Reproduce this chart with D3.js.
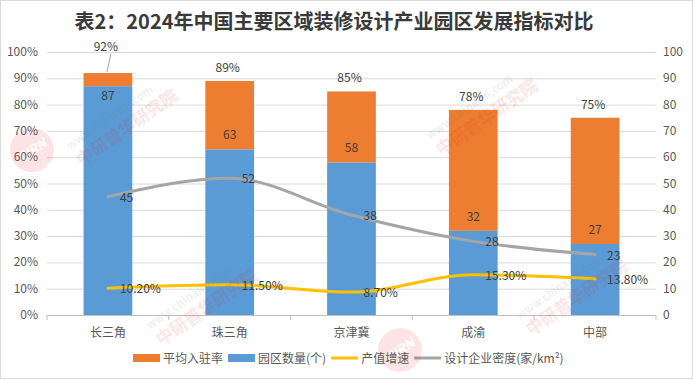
<!DOCTYPE html>
<html>
<head>
<meta charset="utf-8">
<script src="https://cdn.jsdelivr.net/npm/d3@7.9.0/dist/d3.min.js"></script>
<style>
  body { margin: 0; background: #fff; }
  svg { display: block; font-family: "Noto Sans CJK SC", "Noto Sans", sans-serif; }
</style>
</head>
<body>
<svg id="chart" width="693" height="380"></svg>
<script>
// data
const regions = ["长三角", "珠三角", "京津冀", "成渝", "中部"];
const occupancy = [92, 89, 85, 78, 75];        // 平均入驻率 (%)
const parkCount = [87, 63, 58, 32, 27];        // 园区数量(个)
const outputGrowth = [10.2, 11.5, 8.7, 15.3, 13.8]; // 产值增速 (%)
const density = [45, 52, 38, 28, 23];          // 设计企业密度(家/km²)
const leftTicks = d3.range(0, 101, 10);
const rightTicks = d3.range(0, 101, 10);

const colors = {
    orange: "#ED7D31",
    blue: "#5B9BD5",
    yellow: "#FFC000",
    gray: "#A5A5A5",
    axisText: "#595959",
    label: "#404040",
    grid: "#D9D9D9"
};

const svg = d3.select("#chart");
const plot = { left: 47, right: 656, top: 52, bottom: 315 };

let x = d3.scaleBand()
    .domain(regions)
    .range([plot.left, plot.right])
    .paddingInner(0.6)
    .paddingOuter(0.3);
let yLeft = d3.scaleLinear().domain([0, 100]).range([plot.bottom, plot.top]);
let yRight = d3.scaleLinear().domain([0, 100]).range([plot.bottom, plot.top]);
const cx = (d) => x(d) + x.bandwidth() / 2;

// outer frame
svg.append("rect")
    .attr("x", 0.5).attr("y", 0.5)
    .attr("width", 692).attr("height", 378)
    .attr("fill", "none").attr("stroke", "#D9D9D9");

// title
svg.append("text")
    .attr("x", 334).attr("y", 29)
    .attr("text-anchor", "middle")
    .attr("font-size", 20).attr("font-weight", "bold")
    .attr("fill", "#3A3A3A")
    .text("表2：2024年中国主要区域装修设计产业园区发展指标对比");

// gridlines
svg.append("g").selectAll("line")
    .data(leftTicks.slice(1))
    .enter().append("line")
    .attr("x1", plot.left).attr("x2", plot.right)
    .attr("y1", (d) => yLeft(d) + 0.5).attr("y2", (d) => yLeft(d) + 0.5)
    .attr("stroke", colors.grid);

// left axis labels
svg.append("g").selectAll("text")
    .data(leftTicks)
    .enter().append("text")
    .attr("x", 38).attr("y", (d) => yLeft(d) + 4)
    .attr("text-anchor", "end")
    .attr("font-size", 12).attr("fill", colors.axisText)
    .text((d) => d + "%");

// right axis labels
svg.append("g").selectAll("text")
    .data(rightTicks)
    .enter().append("text")
    .attr("x", 663).attr("y", (d) => yRight(d) + 4)
    .attr("font-size", 12).attr("fill", colors.axisText)
    .text((d) => d);

// bars: blue = park count, orange up to occupancy
let bars = svg.append("g");
bars.selectAll(".blue")
    .data(regions)
    .enter().append("rect")
    .attr("x", (d) => x(d)).attr("width", x.bandwidth())
    .attr("y", (d, i) => yRight(parkCount[i]))
    .attr("height", (d, i) => plot.bottom - yRight(parkCount[i]))
    .attr("fill", colors.blue);
bars.selectAll(".orange")
    .data(regions)
    .enter().append("rect")
    .attr("x", (d) => x(d)).attr("width", x.bandwidth())
    .attr("y", (d, i) => yLeft(occupancy[i]))
    .attr("height", (d, i) => yRight(parkCount[i]) - yLeft(occupancy[i]))
    .attr("fill", colors.orange);

// x axis line + ticks at band boundaries
svg.append("line")
    .attr("x1", plot.left).attr("x2", plot.right)
    .attr("y1", plot.bottom + 0.5).attr("y2", plot.bottom + 0.5)
    .attr("stroke", "#BFBFBF");
svg.append("g").selectAll("line")
    .data(d3.range(regions.length + 1))
    .enter().append("line")
    .attr("x1", (i) => plot.left + i * x.step()).attr("x2", (i) => plot.left + i * x.step())
    .attr("y1", plot.bottom).attr("y2", plot.bottom + 5)
    .attr("stroke", "#BFBFBF");

svg.append("g").selectAll("text")
    .data(regions)
    .enter().append("text")
    .attr("x", cx).attr("y", 337)
    .attr("text-anchor", "middle")
    .attr("font-size", 12).attr("fill", colors.axisText)
    .text((d) => d);

// lines (smoothed like the original)
let lineDensity = d3.line()
    .x((d, i) => cx(regions[i]))
    .y((d) => yRight(d))
    .curve(d3.curveMonotoneX);
let lineGrowth = d3.line()
    .x((d, i) => cx(regions[i]))
    .y((d) => yLeft(d))
    .curve(d3.curveMonotoneX);

svg.append("path")
    .datum(density)
    .attr("d", lineDensity)
    .attr("fill", "none").attr("stroke", colors.gray)
    .attr("stroke-width", 3).attr("stroke-linecap", "round");
svg.append("path")
    .datum(outputGrowth)
    .attr("d", lineGrowth)
    .attr("fill", "none").attr("stroke", colors.yellow)
    .attr("stroke-width", 3).attr("stroke-linecap", "round");

// data labels
let labels = svg.append("g")
    .attr("font-size", 12).attr("fill", colors.label);

// occupancy totals above bars
occupancy.forEach((v, i) => {
    let lx = cx(regions[i]);
    let ly = yLeft(v) - 9;
    if (i === 0) {
        ly = yLeft(v) - 22;
        labels.append("line")
            .attr("x1", lx + 3).attr("y1", ly + 3)
            .attr("x2", lx - 1).attr("y2", yLeft(v) - 1)
            .attr("stroke", "#A6A6A6");
    }
    labels.append("text")
        .attr("x", lx - 2).attr("y", ly)
        .attr("text-anchor", "middle")
        .text(v + "%");
});

// park counts near the top of the blue segment
parkCount.forEach((v, i) => {
    let thin = yRight(v) - yLeft(occupancy[i]) < 20;
    labels.append("text")
        .attr("x", cx(regions[i])).attr("y", thin ? yRight(v) + 14 : yRight(v) - 10)
        .attr("text-anchor", "middle")
        .text(v);
});

density.forEach((v, i) => {
    labels.append("text")
        .attr("x", cx(regions[i]) + 12).attr("y", yRight(v) + 5)
        .text(v);
});

outputGrowth.forEach((v, i) => {
    labels.append("text")
        .attr("x", cx(regions[i]) + 12).attr("y", yLeft(v) + 5)
        .text(v.toFixed(2) + "%");
});

// legend
const legendItems = [
    { name: "平均入驻率", color: colors.orange, type: "rect" },
    { name: "园区数量(个)", color: colors.blue, type: "rect" },
    { name: "产值增速", color: colors.yellow, type: "line" },
    { name: "设计企业密度(家/km²)", color: colors.gray, type: "line" }
];
let legend = svg.append("g").attr("transform", "translate(0,358)");
let lx = 133;
legendItems.forEach((item) => {
    if (item.type === "rect") {
        legend.append("rect")
            .attr("x", lx).attr("y", -4).attr("width", 27).attr("height", 8)
            .attr("fill", item.color);
    } else {
        legend.append("line")
            .attr("x1", lx).attr("x2", lx + 27).attr("y1", 0).attr("y2", 0)
            .attr("stroke", item.color).attr("stroke-width", 3);
    }
    let t = legend.append("text")
        .attr("x", lx + 30).attr("y", 4.5)
        .attr("font-size", 12).attr("fill", colors.axisText)
        .text(item.name);
    lx += 30 + t.node().getComputedTextLength() + 5;
});

// watermark, faint, over the chart like the source image
const wm = svg.append("g").attr("opacity", 0.12).attr("fill", "#E0202B")
    .attr("pointer-events", "none");
[[32, 150], [400, 350]].forEach(([wx, wy]) => {
    let g = wm.append("g").attr("transform", `translate(${wx},${wy}) rotate(-35)`);
    g.append("circle").attr("r", 22);
    g.append("text").attr("text-anchor", "middle").attr("dy", 5)
        .attr("fill", "#fff").attr("font-size", 13).attr("font-weight", "bold")
        .attr("font-style", "italic").text("CIRN");
});
[[70, 150], [150, 330], [430, 140], [520, 320]].forEach(([wx, wy]) => {
    let g = wm.append("g").attr("transform", `translate(${wx},${wy}) rotate(-35)`);
    g.append("text").attr("font-size", 11).attr("font-weight", "bold").attr("fill", "#777").text("www.chinairn.com");
    g.append("text").attr("y", 20).attr("font-size", 17).attr("font-weight", "bold").text("中研普华研究院");
});
</script>
</body>
</html>
